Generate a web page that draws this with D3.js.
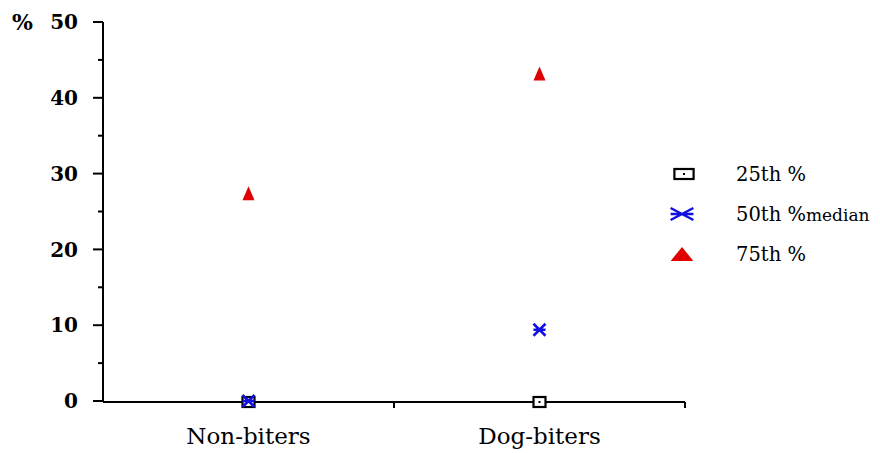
<!DOCTYPE html>
<html lang="en">
<head>
<meta charset="utf-8">
<script src="https://d3js.org/d3.v7.min.js"></script>
<style>
  body { margin: 0; background: #fff; }
  svg { font-family: "DejaVu Serif", "Liberation Serif", serif; }
</style>
</head>
<body>
<div id="chart"></div>
<script>
// data
var groups = ["Non-biters", "Dog-biters"];
var p25 = [0, 0];
var p50 = [0, 9.4];
var p75 = [27.4, 43.2];
var yTicks = [0, 10, 20, 30, 40, 50];
var seriesNames = ["25th %", "50th %", "75th %"];

var W = 880, H = 453;
var margin = {top: 22, left: 103, right: 195, bottom: 52};
var width = W - margin.left - margin.right,
    height = H - margin.top - margin.bottom;

var svg = d3.select("#chart").append("svg")
    .attr("width", W).attr("height", H);
var g = svg.append("g")
    .attr("transform", "translate(" + margin.left + "," + margin.top + ")");

var x = d3.scaleBand().domain(groups).range([0, width]);
var y = d3.scaleLinear().domain([0, 50]).range([height, 0]);

// y axis with minor ticks
var yAx = g.append("g");
yAx.append("line").attr("x1", 0).attr("x2", 0).attr("y1", y(50)).attr("y2", y(0))
  .attr("stroke", "#000").attr("stroke-width", 2);
d3.range(0, 51, 5).forEach(function(v) {
  var major = v % 10 === 0;
  yAx.append("line").attr("x1", major ? -10 : -5).attr("x2", 0)
    .attr("y1", y(v)).attr("y2", y(v))
    .attr("stroke", "#000").attr("stroke-width", 2);
});
yAx.selectAll("text.tick").data(yTicks).enter().append("text")
  .attr("x", -25).attr("y", function(d) { return y(d); })
  .attr("dy", "0.36em").attr("text-anchor", "end")
  .attr("font-size", 20).attr("font-weight", "bold")
  .text(function(d) { return d; });
g.append("text").attr("x", -70).attr("y", y(50)).attr("dy", "0.36em")
  .attr("text-anchor", "end").attr("font-size", 22).attr("font-weight", "bold")
  .text("%");

// x axis
var xAx = g.append("g").attr("transform", "translate(0," + (height + 1) + ")");
xAx.append("line").attr("x1", 0).attr("x2", width)
  .attr("stroke", "#000").attr("stroke-width", 2);
var xt = groups.map(function(d) { return x(d) + x.bandwidth() / 2; })
  .concat(groups.map(function(d) { return x(d) + x.bandwidth(); }));
xAx.selectAll("line.t").data(xt).enter().append("line")
  .attr("x1", function(d) { return d; }).attr("x2", function(d) { return d; })
  .attr("y1", 0).attr("y2", 6).attr("stroke", "#000").attr("stroke-width", 2);
xAx.selectAll("text").data(groups).enter().append("text")
  .attr("x", function(d) { return x(d) + x.bandwidth() / 2; })
  .attr("y", 42).attr("text-anchor", "middle").attr("font-size", 23)
  .text(function(d) { return d; });

// marker drawers (sx stretches horizontally, used by the legend)
function square(sel, cx, cy, sx) {
  sx = sx || 1;
  sel.append("rect").attr("x", cx - 6 * sx).attr("y", cy - 5).attr("width", 12 * sx).attr("height", 10)
    .attr("fill", "#fff").attr("stroke", "#000").attr("stroke-width", 2.2);
  sel.append("rect").attr("x", cx - 1).attr("y", cy - 1).attr("width", 2).attr("height", 2)
    .attr("fill", "#000");
}
function cross(sel, cx, cy, sx) {
  sx = sx || 1;
  var w = 6 * sx;
  sel.append("path")
    .attr("d", "M" + (cx - w) + "," + (cy - 6) + "L" + (cx + w) + "," + (cy + 6) +
               "M" + (cx - w) + "," + (cy + 6) + "L" + (cx + w) + "," + (cy - 6) +
               "M" + (cx - w) + "," + cy + "L" + (cx + w) + "," + cy)
    .attr("stroke", "#1010e0").attr("stroke-width", 2.5).attr("fill", "none");
}
function tri(sel, cx, cy, sx) {
  sx = sx || 1;
  var w = 6 * sx;
  sel.append("path")
    .attr("d", "M" + cx + "," + (cy - 7) + "L" + (cx + w) + "," + (cy + 7) + "L" + (cx - w) + "," + (cy + 7) + "Z")
    .attr("fill", "#e00000");
}

var marks = g.append("g");
groups.forEach(function(grp, i) {
  var cx = x(grp) + x.bandwidth() / 2;
  square(marks, cx, y(p25[i]) + 1);
  cross(marks, cx, y(p50[i]));
  tri(marks, cx, y(p75[i]));
});

// legend
var leg = svg.append("g");
var legY = [174, 214, 254];
square(leg, 684, legY[0], 1.6);
cross(leg, 682, legY[1], 1.9);
tri(leg, 682, legY[2], 1.9);
seriesNames.forEach(function(s, i) {
  var t = leg.append("text").attr("x", 736).attr("y", legY[i]).attr("dy", "0.36em")
    .attr("font-size", 19.5).text(s);
  if (i === 1) t.append("tspan").attr("font-size", 17).text("median");
});
</script>
</body>
</html>
